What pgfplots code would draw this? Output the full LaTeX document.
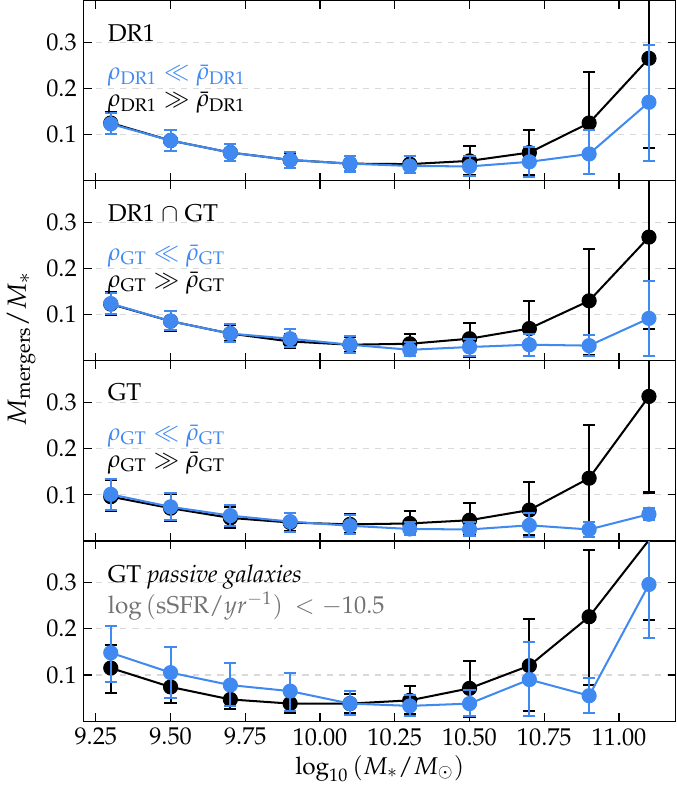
\documentclass[border=0pt]{standalone}
\usepackage[T1]{fontenc}
\usepackage{mathpazo}
\usepackage{pgfplots}
\pgfplotsset{compat=1.18}
\usepgfplotslibrary{groupplots}
\usepackage{pgfplotstable}

\definecolor{lowrho}{RGB}{64,137,240}

% columns: x, value, upper end of error bar, lower end of error bar
\pgfplotstableread{
x y hi lo
9.3 0.125 0.148 0.101
9.5 0.087 0.110 0.065
9.7 0.061 0.080 0.042
9.9 0.045 0.061 0.028
10.1 0.037 0.054 0.020
10.3 0.036 0.054 0.017
10.5 0.043 0.075 0.012
10.7 0.061 0.110 0.012
10.9 0.125 0.236 0.014
11.1 0.265 0.480 0.071
}\drHigh
\pgfplotstableread{
x y hi lo
9.3 0.123 0.147 0.101
9.5 0.087 0.110 0.065
9.7 0.061 0.080 0.042
9.9 0.045 0.063 0.028
10.1 0.037 0.054 0.020
10.3 0.032 0.054 0.017
10.5 0.031 0.054 0.010
10.7 0.041 0.074 0.009
10.9 0.058 0.109 0.015
11.1 0.170 0.294 0.042
}\drLow
\pgfplotstableread{
x y hi lo
9.3 0.123 0.149 0.099
9.5 0.086 0.108 0.065
9.7 0.059 0.077 0.042
9.9 0.042 0.059 0.028
10.1 0.035 0.052 0.019
10.3 0.037 0.058 0.017
10.5 0.048 0.082 0.008
10.7 0.070 0.129 0.011
10.9 0.130 0.242 0.013
11.1 0.268 0.480 0.070
}\dgHigh
\pgfplotstableread{
x y hi lo
9.3 0.124 0.146 0.101
9.5 0.086 0.107 0.066
9.7 0.059 0.079 0.041
9.9 0.048 0.068 0.030
10.1 0.035 0.053 0.017
10.3 0.024 0.041 0.011
10.5 0.030 0.048 0.010
10.7 0.035 0.059 0.010
10.9 0.033 0.057 0.010
11.1 0.092 0.172 0.010
}\dgLow
\pgfplotstableread{
x y hi lo
9.3 0.096 0.133 0.064
9.5 0.071 0.101 0.044
9.7 0.050 0.074 0.028
9.9 0.040 0.060 0.021
10.1 0.036 0.058 0.018
10.3 0.038 0.064 0.017
10.5 0.045 0.082 0.012
10.7 0.067 0.127 0.012
10.9 0.136 0.252 0.009
11.1 0.313 0.520 0.105
}\gtHigh
\pgfplotstableread{
x y hi lo
9.3 0.101 0.135 0.067
9.5 0.074 0.104 0.045
9.7 0.055 0.077 0.033
9.9 0.042 0.061 0.020
10.1 0.033 0.056 0.015
10.3 0.026 0.042 0.012
10.5 0.025 0.042 0.011
10.7 0.034 0.060 0.009
10.9 0.025 0.042 0.009
11.1 0.058 0.071 0.045
}\gtLow
\pgfplotstableread{
x y hi lo
9.3 0.115 0.165 0.061
9.5 0.074 0.105 0.039
9.7 0.047 0.075 0.027
9.9 0.038 0.056 0.018
10.1 0.038 0.058 0.017
10.3 0.045 0.077 0.016
10.5 0.071 0.131 0.008
10.7 0.120 0.221 0.021
10.9 0.226 0.371 0.079
11.1 0.392 0.600 0.219
}\psHigh
\pgfplotstableread{
x y hi lo
9.3 0.148 0.206 0.085
9.5 0.105 0.161 0.050
9.7 0.078 0.126 0.033
9.9 0.065 0.104 0.023
10.1 0.038 0.065 0.014
10.3 0.033 0.056 0.011
10.5 0.038 0.067 0.012
10.7 0.090 0.172 0.011
10.9 0.055 0.094 0.017
11.1 0.296 0.450 0.179
}\psLow

\pgfplotsset{
  mergerstyle/.style={
    line width=1pt, mark=*, mark size=3.5pt,
    mark options={solid, line width=0.5pt},
    error bars/y dir=both, error bars/y explicit,
    error bars/error bar style={line width=1pt},
    error bars/error mark options={rotate=90, mark size=3pt, line width=1pt},
  },
  highrho/.style={mergerstyle, color=black},
  lowrhostyle/.style={mergerstyle, color=lowrho},
}

\newcommand{\seriesplot}[2]{%
  \addplot[#1] table[x=x, y=y,
    y error plus expr=\thisrow{hi}-\thisrow{y},
    y error minus expr=\thisrow{y}-\thisrow{lo}] {#2};}

\tikzset{panellabel/.style={anchor=base west, font=\large, inner sep=0pt}}

\begin{document}
\begin{tikzpicture}
\begin{groupplot}[
  group style={group size=1 by 4, vertical sep=0pt,
    x descriptions at=edge bottom},
  scale only axis, width=292.5pt, height=89pt,
  xmin=9.21, xmax=11.19, ymin=0, ymax=0.39,
  xtick={9.25,9.5,9.75,10,10.25,10.5,10.75,11},
  ytick={0.1,0.2,0.3},
  xtick pos=both, ytick pos=both, tick align=inside,
  major tick length=4pt,
  tick style={black, line width=0.6pt},
  axis line style={line width=0.6pt},
  ymajorgrids, grid style={dashed, black!15, line width=0.6pt},
  ticklabel style={font=\large},
  xticklabel style={/pgf/number format/.cd, fixed, fixed zerofill, precision=2},
  yticklabel style={/pgf/number format/.cd, fixed, fixed zerofill, precision=1},
  clip marker paths=true,
  xlabel={$\log_{10}\left(M_{*}/M_{\odot}\right)$},
  xlabel style={font=\large, yshift=2pt},
]
\nextgroupplot
\seriesplot{highrho}{\drHigh}
\seriesplot{lowrhostyle}{\drLow}
\node[panellabel] at (rel axis cs:0.04,0.775) {DR1};
\node[panellabel, text=lowrho] at (rel axis cs:0.04,0.56)
  {$\rho_{\mathrm{DR1}} \ll \bar{\rho}_{\mathrm{DR1}}$};
\node[panellabel] at (rel axis cs:0.04,0.41)
  {$\rho_{\mathrm{DR1}} \gg \bar{\rho}_{\mathrm{DR1}}$};

\nextgroupplot
\seriesplot{highrho}{\dgHigh}
\seriesplot{lowrhostyle}{\dgLow}
\node[panellabel] at (rel axis cs:0.04,0.775) {DR1 $\cap$ GT};
\node[panellabel, text=lowrho] at (rel axis cs:0.04,0.56)
  {$\rho_{\mathrm{GT}} \ll \bar{\rho}_{\mathrm{GT}}$};
\node[panellabel] at (rel axis cs:0.04,0.41)
  {$\rho_{\mathrm{GT}} \gg \bar{\rho}_{\mathrm{GT}}$};

\nextgroupplot
\seriesplot{highrho}{\gtHigh}
\seriesplot{lowrhostyle}{\gtLow}
\node[panellabel] at (rel axis cs:0.04,0.78) {GT};
\node[panellabel, text=lowrho] at (rel axis cs:0.04,0.56)
  {$\rho_{\mathrm{GT}} \ll \bar{\rho}_{\mathrm{GT}}$};
\node[panellabel] at (rel axis cs:0.04,0.41)
  {$\rho_{\mathrm{GT}} \gg \bar{\rho}_{\mathrm{GT}}$};

\nextgroupplot
\seriesplot{highrho}{\psHigh}
\seriesplot{lowrhostyle}{\psLow}
\node[panellabel] at (rel axis cs:0.04,0.77) {GT \textit{passive galaxies}};
\node[panellabel, text=black!55] at (rel axis cs:0.04,0.60)
  {$\log\,(\mathrm{sSFR}/yr^{-1})\hspace{2.5pt} < -10.5$};
\end{groupplot}
\node[rotate=90, font=\fontsize{13}{16}\selectfont]
  at ([xshift=-31pt, yshift=6pt]group c1r2.south west)
  {$M_{\mathrm{mergers}}/M_{*}$};
\end{tikzpicture}
\end{document}
